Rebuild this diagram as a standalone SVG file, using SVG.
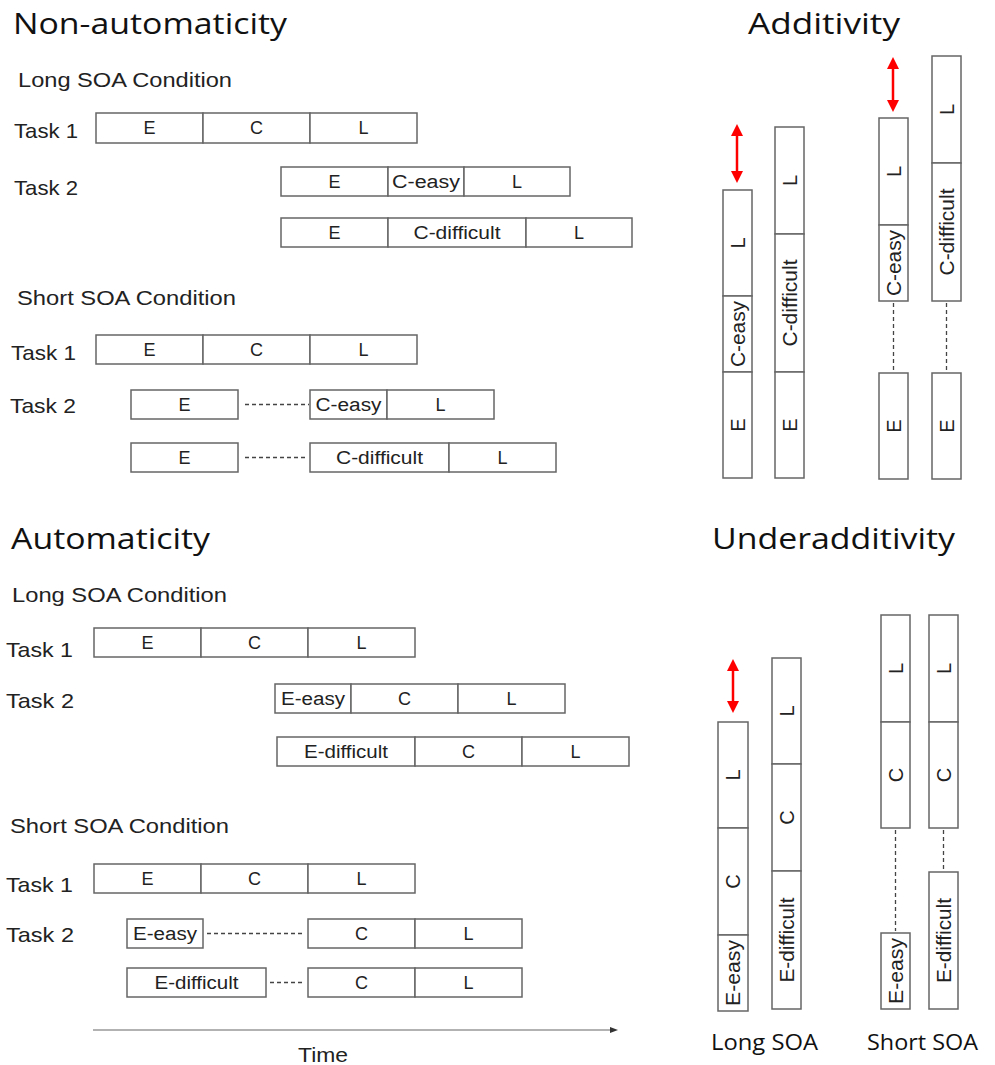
<svg xmlns="http://www.w3.org/2000/svg" width="995" height="1065" viewBox="0 0 995 1065">
<defs>
<style>
.title{font-family:"Open Sans","Noto Sans",sans-serif;font-size:29px;fill:#111}
.soa{font-family:"Open Sans","Noto Sans",sans-serif;font-size:22px;fill:#111}
.sub{font-family:"Liberation Sans",Arial,sans-serif;font-size:20px;fill:#222}
.task{font-family:"Liberation Sans",Arial,sans-serif;font-size:21px;fill:#222}
.lbl{font-family:"Liberation Sans",Arial,sans-serif;font-size:18px;fill:#222;text-anchor:middle}
.vl{font-family:"Liberation Sans",Arial,sans-serif;font-size:20px;fill:#222;text-anchor:middle}
.seg{fill:#fff;stroke:#666;stroke-width:1.5}
.dash{stroke:#444;stroke-width:1.3;stroke-dasharray:4 3;fill:none}
.red{stroke:#f00;stroke-width:2.5;fill:none}
.axis{stroke:#999;stroke-width:1.5;fill:none}
</style>
<marker id="rh" markerUnits="userSpaceOnUse" viewBox="0 0 12 12" markerWidth="12" markerHeight="12" refX="5" refY="6" orient="auto-start-reverse">
<path d="M0,0 L12,6 L0,12 z" fill="#f00"/>
</marker>
<marker id="th" markerUnits="userSpaceOnUse" viewBox="0 0 8 6" markerWidth="8" markerHeight="6" refX="2" refY="3" orient="auto">
<path d="M0,0 L8,3 L0,6 z" fill="#333"/>
</marker>
</defs>
<rect x="0" y="0" width="995" height="1065" fill="#fff"/>

<g id="headings">
<text class="title" x="13" y="34" textLength="274" lengthAdjust="spacingAndGlyphs">Non-automaticity</text>
<text class="title" x="748" y="34" textLength="152" lengthAdjust="spacingAndGlyphs">Additivity</text>
<text class="title" x="11" y="549" textLength="199" lengthAdjust="spacingAndGlyphs">Automaticity</text>
<text class="title" x="712" y="549" textLength="243" lengthAdjust="spacingAndGlyphs">Underadditivity</text>
<text class="soa" x="711" y="1050" textLength="107" lengthAdjust="spacingAndGlyphs">Long SOA</text>
<text class="soa" x="867" y="1050" textLength="111" lengthAdjust="spacingAndGlyphs">Short SOA</text>
<text class="sub" x="18" y="87" textLength="214" lengthAdjust="spacingAndGlyphs">Long SOA Condition</text>
<text class="sub" x="17" y="305" textLength="219" lengthAdjust="spacingAndGlyphs">Short SOA Condition</text>
<text class="sub" x="12" y="602" textLength="215" lengthAdjust="spacingAndGlyphs">Long SOA Condition</text>
<text class="sub" x="10" y="833" textLength="219" lengthAdjust="spacingAndGlyphs">Short SOA Condition</text>
<text class="task" x="14" y="138" textLength="64" lengthAdjust="spacingAndGlyphs">Task 1</text>
<text class="task" x="14" y="195" textLength="64" lengthAdjust="spacingAndGlyphs">Task 2</text>
<text class="task" x="11" y="360" textLength="65" lengthAdjust="spacingAndGlyphs">Task 1</text>
<text class="task" x="10" y="413" textLength="66" lengthAdjust="spacingAndGlyphs">Task 2</text>
<text class="task" x="6" y="657" textLength="67" lengthAdjust="spacingAndGlyphs">Task 1</text>
<text class="task" x="6" y="708" textLength="68" lengthAdjust="spacingAndGlyphs">Task 2</text>
<text class="task" x="6" y="892" textLength="67" lengthAdjust="spacingAndGlyphs">Task 1</text>
<text class="task" x="6" y="942" textLength="68" lengthAdjust="spacingAndGlyphs">Task 2</text>
<text class="task" x="298" y="1062" textLength="50" lengthAdjust="spacingAndGlyphs">Time</text>
</g>

<!-- Non-automaticity, long SOA -->
<g id="na-long-task1">
<rect class="seg" x="96" y="113" width="107" height="30"/><rect class="seg" x="203" y="113" width="107" height="30"/><rect class="seg" x="310" y="113" width="107" height="30"/>
<text class="lbl" x="149.5" y="134">E</text><text class="lbl" x="256.5" y="134">C</text><text class="lbl" x="363.5" y="134">L</text>
</g>
<g id="na-long-task2-easy">
<rect class="seg" x="281" y="167" width="107" height="29"/><rect class="seg" x="388" y="167" width="76" height="29"/><rect class="seg" x="464" y="167" width="106" height="29"/>
<text class="lbl" x="334.5" y="188">E</text><text class="lbl" x="426" y="188" textLength="68" lengthAdjust="spacingAndGlyphs">C-easy</text><text class="lbl" x="517" y="188">L</text>
</g>
<g id="na-long-task2-difficult">
<rect class="seg" x="281" y="218" width="107" height="29"/><rect class="seg" x="388" y="218" width="138" height="29"/><rect class="seg" x="526" y="218" width="106" height="29"/>
<text class="lbl" x="334.5" y="239">E</text><text class="lbl" x="457" y="239" textLength="87" lengthAdjust="spacingAndGlyphs">C-difficult</text><text class="lbl" x="579" y="239">L</text>
</g>

<!-- Non-automaticity, short SOA -->
<g id="na-short-task1">
<rect class="seg" x="96" y="335" width="107" height="29"/><rect class="seg" x="203" y="335" width="107" height="29"/><rect class="seg" x="310" y="335" width="107" height="29"/>
<text class="lbl" x="149.5" y="356">E</text><text class="lbl" x="256.5" y="356">C</text><text class="lbl" x="363.5" y="356">L</text>
</g>
<g id="na-short-task2-easy-e">
<rect class="seg" x="131" y="390" width="107" height="29"/><text class="lbl" x="184.5" y="411">E</text>
</g>
<g id="na-short-task2-easy-cl">
<rect class="seg" x="310" y="390" width="77" height="29"/><rect class="seg" x="387" y="390" width="107" height="29"/>
<text class="lbl" x="348.5" y="411" textLength="66" lengthAdjust="spacingAndGlyphs">C-easy</text><text class="lbl" x="440.5" y="411">L</text>
</g>
<g id="na-short-task2-diff-e">
<rect class="seg" x="131" y="443" width="107" height="29"/><text class="lbl" x="184.5" y="464">E</text>
</g>
<g id="na-short-task2-diff-cl">
<rect class="seg" x="310" y="443" width="139" height="29"/><rect class="seg" x="449" y="443" width="107" height="29"/>
<text class="lbl" x="379.5" y="464" textLength="87" lengthAdjust="spacingAndGlyphs">C-difficult</text><text class="lbl" x="502.5" y="464">L</text>
</g>

<!-- Automaticity, long SOA -->
<g id="a-long-task1">
<rect class="seg" x="94" y="628" width="107" height="29"/><rect class="seg" x="201" y="628" width="107" height="29"/><rect class="seg" x="308" y="628" width="107" height="29"/>
<text class="lbl" x="147.5" y="649">E</text><text class="lbl" x="254.5" y="649">C</text><text class="lbl" x="361.5" y="649">L</text>
</g>
<g id="a-long-task2-easy">
<rect class="seg" x="275" y="684" width="76" height="29"/><rect class="seg" x="351" y="684" width="107" height="29"/><rect class="seg" x="458" y="684" width="107" height="29"/>
<text class="lbl" x="313" y="705" textLength="64" lengthAdjust="spacingAndGlyphs">E-easy</text><text class="lbl" x="404.5" y="705">C</text><text class="lbl" x="511.5" y="705">L</text>
</g>
<g id="a-long-task2-difficult">
<rect class="seg" x="277" y="737" width="138" height="29"/><rect class="seg" x="415" y="737" width="107" height="29"/><rect class="seg" x="522" y="737" width="107" height="29"/>
<text class="lbl" x="346" y="758" textLength="84" lengthAdjust="spacingAndGlyphs">E-difficult</text><text class="lbl" x="468.5" y="758">C</text><text class="lbl" x="575.5" y="758">L</text>
</g>

<!-- Automaticity, short SOA -->
<g id="a-short-task1">
<rect class="seg" x="94" y="864" width="107" height="29"/><rect class="seg" x="201" y="864" width="107" height="29"/><rect class="seg" x="308" y="864" width="107" height="29"/>
<text class="lbl" x="147.5" y="885">E</text><text class="lbl" x="254.5" y="885">C</text><text class="lbl" x="361.5" y="885">L</text>
</g>
<g id="a-short-task2-easy-e">
<rect class="seg" x="127" y="919" width="76" height="29"/><text class="lbl" x="165" y="940" textLength="64" lengthAdjust="spacingAndGlyphs">E-easy</text>
</g>
<g id="a-short-task2-easy-cl">
<rect class="seg" x="308" y="919" width="107" height="29"/><rect class="seg" x="415" y="919" width="107" height="29"/>
<text class="lbl" x="361.5" y="940">C</text><text class="lbl" x="468.5" y="940">L</text>
</g>
<g id="a-short-task2-diff-e">
<rect class="seg" x="127" y="968" width="139" height="29"/><text class="lbl" x="196.5" y="989" textLength="84" lengthAdjust="spacingAndGlyphs">E-difficult</text>
</g>
<g id="a-short-task2-diff-cl">
<rect class="seg" x="308" y="968" width="107" height="29"/><rect class="seg" x="415" y="968" width="107" height="29"/>
<text class="lbl" x="361.5" y="989">C</text><text class="lbl" x="468.5" y="989">L</text>
</g>

<!-- Additivity -->
<g id="add-long-easy">
<rect class="seg" x="723" y="190" width="29" height="106"/><rect class="seg" x="723" y="296" width="29" height="76"/><rect class="seg" x="723" y="372" width="29" height="106"/>
<text class="vl" transform="translate(744.5,243) rotate(-90)">L</text>
<text class="vl" transform="translate(744.5,334) rotate(-90)" textLength="66" lengthAdjust="spacingAndGlyphs">C-easy</text>
<text class="vl" transform="translate(744.5,425) rotate(-90)">E</text>
</g>
<g id="add-long-difficult">
<rect class="seg" x="775" y="127" width="29" height="107"/><rect class="seg" x="775" y="234" width="29" height="138"/><rect class="seg" x="775" y="372" width="29" height="106"/>
<text class="vl" transform="translate(796.5,180.5) rotate(-90)">L</text>
<text class="vl" transform="translate(796.5,303) rotate(-90)" textLength="87" lengthAdjust="spacingAndGlyphs">C-difficult</text>
<text class="vl" transform="translate(796.5,425) rotate(-90)">E</text>
</g>
<g id="add-short-easy-cl">
<rect class="seg" x="879" y="118" width="29" height="107"/><rect class="seg" x="879" y="225" width="29" height="76"/>
<text class="vl" transform="translate(900.5,171.5) rotate(-90)">L</text>
<text class="vl" transform="translate(900.5,263) rotate(-90)" textLength="66" lengthAdjust="spacingAndGlyphs">C-easy</text>
</g>
<g id="add-short-easy-e">
<rect class="seg" x="879" y="373" width="29" height="106"/>
<text class="vl" transform="translate(900.5,426) rotate(-90)">E</text>
</g>
<g id="add-short-difficult-cl">
<rect class="seg" x="932" y="56" width="29" height="107"/><rect class="seg" x="932" y="163" width="29" height="138"/>
<text class="vl" transform="translate(953.5,109.5) rotate(-90)">L</text>
<text class="vl" transform="translate(953.5,232) rotate(-90)" textLength="87" lengthAdjust="spacingAndGlyphs">C-difficult</text>
</g>
<g id="add-short-difficult-e">
<rect class="seg" x="932" y="373" width="29" height="106"/>
<text class="vl" transform="translate(953.5,426) rotate(-90)">E</text>
</g>

<!-- Underadditivity -->
<g id="ua-long-easy">
<rect class="seg" x="718" y="722" width="30" height="106"/><rect class="seg" x="718" y="828" width="30" height="107"/><rect class="seg" x="718" y="935" width="30" height="76"/>
<text class="vl" transform="translate(740,775) rotate(-90)">L</text>
<text class="vl" transform="translate(740,881.5) rotate(-90)">C</text>
<text class="vl" transform="translate(740,973) rotate(-90)" textLength="66" lengthAdjust="spacingAndGlyphs">E-easy</text>
</g>
<g id="ua-long-difficult">
<rect class="seg" x="772" y="658" width="29" height="106"/><rect class="seg" x="772" y="764" width="29" height="107"/><rect class="seg" x="772" y="871" width="29" height="138"/>
<text class="vl" transform="translate(793.5,711) rotate(-90)">L</text>
<text class="vl" transform="translate(793.5,817.5) rotate(-90)">C</text>
<text class="vl" transform="translate(793.5,940) rotate(-90)" textLength="85" lengthAdjust="spacingAndGlyphs">E-difficult</text>
</g>
<g id="ua-short-easy-cl">
<rect class="seg" x="881" y="615" width="29" height="107"/><rect class="seg" x="881" y="722" width="29" height="106"/>
<text class="vl" transform="translate(902.5,668.5) rotate(-90)">L</text>
<text class="vl" transform="translate(902.5,775) rotate(-90)">C</text>
</g>
<g id="ua-short-easy-e">
<rect class="seg" x="881" y="933" width="29" height="76"/>
<text class="vl" transform="translate(902.5,971) rotate(-90)" textLength="66" lengthAdjust="spacingAndGlyphs">E-easy</text>
</g>
<g id="ua-short-difficult-cl">
<rect class="seg" x="929" y="615" width="29" height="107"/><rect class="seg" x="929" y="722" width="29" height="106"/>
<text class="vl" transform="translate(950.5,668.5) rotate(-90)">L</text>
<text class="vl" transform="translate(950.5,775) rotate(-90)">C</text>
</g>
<g id="ua-short-difficult-e">
<rect class="seg" x="929" y="872" width="29" height="137"/>
<text class="vl" transform="translate(950.5,940.5) rotate(-90)" textLength="85" lengthAdjust="spacingAndGlyphs">E-difficult</text>
</g>

<g id="connectors">
<line class="dash" x1="245" y1="404.5" x2="309" y2="404.5"/>
<line class="dash" x1="245" y1="457.5" x2="308" y2="457.5"/>
<line class="dash" x1="207" y1="933.5" x2="305" y2="933.5"/>
<line class="dash" x1="270" y1="982.5" x2="305" y2="982.5"/>
<line class="dash" x1="893.5" y1="303" x2="893.5" y2="371"/>
<line class="dash" x1="946.5" y1="303" x2="946.5" y2="371"/>
<line class="dash" x1="895.5" y1="830" x2="895.5" y2="931"/>
<line class="dash" x1="943.5" y1="830" x2="943.5" y2="870"/>
<line class="red" x1="737" y1="131" x2="737" y2="176" marker-start="url(#rh)" marker-end="url(#rh)"/>
<line class="red" x1="893" y1="64" x2="893" y2="105" marker-start="url(#rh)" marker-end="url(#rh)"/>
<line class="red" x1="733" y1="666" x2="733" y2="706" marker-start="url(#rh)" marker-end="url(#rh)"/>
<line class="axis" x1="93" y1="1030" x2="612" y2="1030" marker-end="url(#th)"/>
</g>
</svg>
